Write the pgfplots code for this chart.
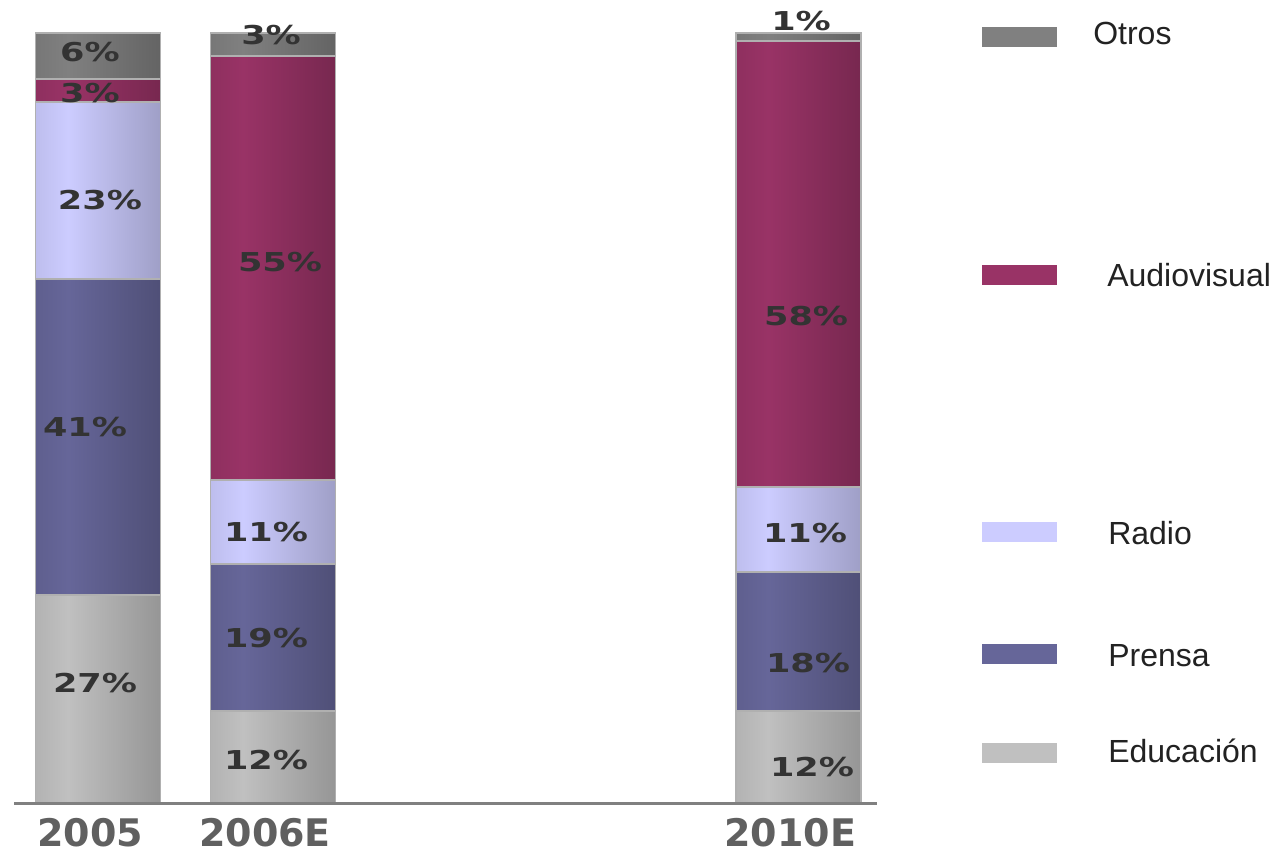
\documentclass[border=0pt]{standalone}
\usepackage{pgfplots}
\pgfplotsset{compat=1.18}
\usepackage{pgfplotstable}
\usepackage{fontspec}
\setmainfont{Liberation Sans}
\newfontfamily\lblfont[FakeStretch=1.35]{DejaVu Sans}
\newfontfamily\tickfont{DejaVu Sans}

\definecolor{cOtros}{HTML}{808080}
\definecolor{cAudio}{HTML}{993366}
\definecolor{cRadio}{HTML}{CCCCFF}
\definecolor{cPrensa}{HTML}{666699}
\definecolor{cEduc}{HTML}{C0C0C0}
\definecolor{edgec}{HTML}{B0B0B0}
\definecolor{lblc}{HTML}{333333}
\definecolor{tickc}{HTML}{606060}
\definecolor{legc}{HTML}{222222}
\definecolor{axc}{HTML}{808080}

\colorlet{segA}{gray}\colorlet{segB}{gray}\colorlet{segC}{gray}
\pgfdeclarehorizontalshading[segA,segB,segC]{segshade}{100bp}{%
  color(0bp)=(segA); color(25bp)=(segA); color(38bp)=(segB);
  color(75bp)=(segC); color(100bp)=(segC)}

% shares (%) per year
\pgfplotstableread{
x Educ Prensa Radio Audio Otros
0 27 41 23 3 6
}\sharesA
\pgfplotstableread{
x Educ Prensa Radio Audio Otros
1 12 19 11 55 3
}\sharesB
\pgfplotstableread{
x Educ Prensa Radio Audio Otros
4 12 18 11 58 1
}\sharesC

% label positions
\pgfplotstableread{
x y lbl
-0.046 97.5 6
-0.046 92.2 3
0.011 78.3 23
-0.074 48.8 41
-0.017 15.6 27
0.989 99.7 3
1.040 70.3 55
0.960 35.2 11
0.960 21.4 19
0.960 5.6 12
4.017 101.6 1
4.046 63.2 58
4.040 35.1 11
4.057 18.2 18
4.080 4.7 12
}\labels

\pgfplotsset{
  common/.style={
    at={(0,0)}, anchor=south west, scale only axis,
    width=647.25pt, height=577.5pt,
    xmin=-0.48, xmax=4.451, ymin=0, ymax=100, clip=false,
  },
  baraxis/.style={common, hide axis, ybar stacked, bar width=93.75pt},
  seg/.style={draw=edgec, line width=1.4pt,
    /utils/exec={\colorlet{segA}{#1!93!black}\colorlet{segB}{#1}\colorlet{segC}{#1!78!black}},
    shading=segshade},
}

\begin{document}
\begin{tikzpicture}
\useasboundingbox (-10.5pt,-41.25pt) rectangle (947.25pt,602.25pt);
% 2005
\begin{axis}[baraxis]
\addplot[seg=cEduc] table[x=x,y=Educ]{\sharesA};
\addplot[seg=cPrensa] table[x=x,y=Prensa]{\sharesA};
\addplot[seg=cRadio] table[x=x,y=Radio]{\sharesA};
\addplot[seg=cAudio] table[x=x,y=Audio]{\sharesA};
\addplot[seg=cOtros] table[x=x,y=Otros]{\sharesA};
\end{axis}
% 2006E
\begin{axis}[baraxis]
\addplot[seg=cEduc] table[x=x,y=Educ]{\sharesB};
\addplot[seg=cPrensa] table[x=x,y=Prensa]{\sharesB};
\addplot[seg=cRadio] table[x=x,y=Radio]{\sharesB};
\addplot[seg=cAudio] table[x=x,y=Audio]{\sharesB};
\addplot[seg=cOtros] table[x=x,y=Otros]{\sharesB};
\end{axis}
% 2010E
\begin{axis}[baraxis]
\addplot[seg=cEduc] table[x=x,y=Educ]{\sharesC};
\addplot[seg=cPrensa] table[x=x,y=Prensa]{\sharesC};
\addplot[seg=cRadio] table[x=x,y=Radio]{\sharesC};
\addplot[seg=cAudio] table[x=x,y=Audio]{\sharesC};
\addplot[seg=cOtros] table[x=x,y=Otros]{\sharesC};
\end{axis}
% axis line, ticks and value labels
\begin{axis}[common,
  axis line style={draw=none},
  ytick=\empty, xtick={0,1,4}, xticklabels={2005,2006E,2010E},
  major tick length=0pt,
  xticklabel style={anchor=center, yshift=-22pt, xshift=-6pt,
    font=\tickfont\bfseries\fontsize{28.5}{30}\selectfont, text=tickc},
]
\draw[axc, line width=2.25pt] (rel axis cs:0,0) -- (rel axis cs:1,0);
\addplot[draw=none, mark=none, nodes near coords={\pgfplotspointmeta\%},
  point meta=explicit symbolic,
  every node near coord/.append style={anchor=center, inner sep=0pt,
    font=\lblfont\bfseries\fontsize{19.5}{20}\selectfont, text=lblc}]
  table[x=x,y=y,meta=lbl]{\labels};
\end{axis}
\begin{scope}[shift={(-10.5pt,602.25pt)}, x=0.75pt, y=-0.75pt]
\fill[cOtros] (982,27) rectangle (1057,47);
\fill[cAudio] (982,265) rectangle (1057,285);
\fill[cRadio] (982,522) rectangle (1057,542);
\fill[cPrensa] (982,644) rectangle (1057,664);
\fill[cEduc] (982,743) rectangle (1057,763);
\begin{scope}[every node/.style={anchor=base west, inner sep=0pt, text=legc,
    font=\fontsize{24}{26}\selectfont}]
\node at (1093,45) {Otros};
\node at (1107,287) {Audiovisual};
\node at (1108,544) {Radio};
\node at (1108,666) {Prensa};
\node at (1108,762) {Educación};
\end{scope}
\end{scope}
\end{tikzpicture}
\end{document}
